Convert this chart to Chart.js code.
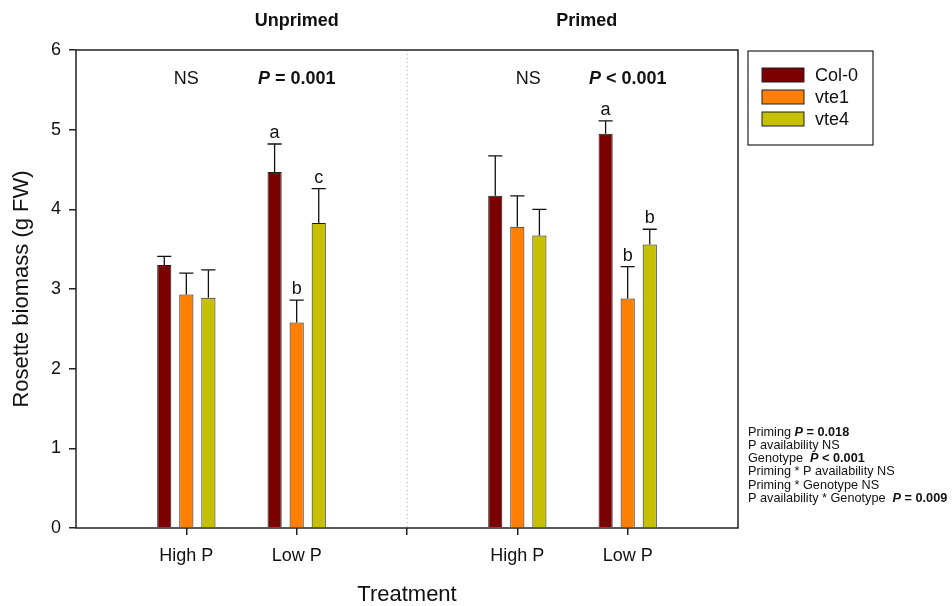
<!DOCTYPE html>
<html>
<head>
<meta charset="utf-8">
<script src="https://cdn.jsdelivr.net/npm/chart.js@4"></script>
<style>
  html, body { margin: 0; padding: 0; background: #fff; }
  #wrap { width: 952px; height: 606px; }
</style>
</head>
<body>
<div id="wrap"><canvas id="biomassChart" width="952" height="606"></canvas></div>
<script>
const FONT = "'Liberation Sans', Arial, sans-serif";

// treatment slots: 0, 3 and 6 are empty spacers around the two panels
const categories = ["", "High P", "Low P", "", "High P", "Low P", ""];
const genotypes = ["Col-0", "vte1", "vte4"];
const colors = ["#7b0000", "#ff8000", "#c6c000"];

const col0 = [null, 3.30, 4.47, null, 4.17, 4.95, null];
const col0Se = [null, 0.11, 0.35, null, 0.50, 0.16, null];
const vte1 = [null, 2.93, 2.58, null, 3.78, 2.88, null];
const vte1Se = [null, 0.27, 0.28, null, 0.39, 0.40, null];
const vte4 = [null, 2.89, 3.83, null, 3.67, 3.56, null];
const vte4Se = [null, 0.35, 0.43, null, 0.33, 0.19, null];

const col0Letters = ["", "", "a", "", "", "a", ""];
const vte1Letters = ["", "", "b", "", "", "b", ""];
const vte4Letters = ["", "", "c", "", "", "b", ""];

const yTicks = [0, 1, 2, 3, 4, 5, 6];

const panelTitles = [["Unprimed", 2], ["Primed", 4.63]];
const panelTests = [
  [1, null, "NS"], [2, "P", " = 0.001"],
  [4.1, null, "NS"], [5, "P", " < 0.001"]
];
const statLines = [
  [["Priming ", "n"], ["P", "bi"], [" = 0.018", "b"]],
  [["P availability NS", "n"]],
  [["Genotype  ", "n"], ["P", "bi"], [" < 0.001", "b"]],
  [["Priming * P availability NS", "n"]],
  [["Priming * Genotype NS", "n"]],
  [["P availability * Genotype  ", "n"], ["P", "bi"], [" = 0.009", "b"]]
];

const seList = [col0Se, vte1Se, vte4Se];
const letterList = [col0Letters, vte1Letters, vte4Letters];

function fontOf(kind, size) {
  if (kind === "bi") return "italic bold " + size + "px " + FONT;
  if (kind === "b") return "bold " + size + "px " + FONT;
  return size + "px " + FONT;
}

// draws runs of text with mixed weights, starting at x
function drawRuns(ctx, runs, x, y, size) {
  runs.forEach(([txt, kind]) => {
    ctx.font = fontOf(kind, size);
    ctx.fillText(txt, x, y);
    x += ctx.measureText(txt).width;
  });
}
function runsWidth(ctx, runs, size) {
  let w = 0;
  runs.forEach(([txt, kind]) => { ctx.font = fontOf(kind, size); w += ctx.measureText(txt).width; });
  return w;
}

const decorPlugin = {
  id: "decor",
  beforeDatasetsDraw(chart) {
    const { ctx, chartArea: a, scales: { x } } = chart;
    // dotted divider between the two panels
    ctx.save();
    ctx.strokeStyle = "#b8b8b8";
    ctx.lineWidth = 1;
    ctx.setLineDash([1, 3]);
    const dx = Math.round(x.getPixelForValue(3)) + 0.5;
    ctx.beginPath();
    ctx.moveTo(dx, a.top);
    ctx.lineTo(dx, a.bottom);
    ctx.stroke();
    ctx.restore();
  },
  afterDatasetsDraw(chart) {
    const { ctx, chartArea: a, scales: { x, y } } = chart;
    ctx.save();

    // error bars (upper only) and significance letters
    chart.data.datasets.forEach((ds, di) => {
      const meta = chart.getDatasetMeta(di);
      meta.data.forEach((bar, i) => {
        if (ds.data[i] == null) return;
        const top = y.getPixelForValue(ds.data[i] + seList[di][i]);
        const half = bar.width / 2;
        ctx.strokeStyle = "#111";
        ctx.lineWidth = 1.3;
        ctx.beginPath();
        ctx.moveTo(bar.x, bar.y);
        ctx.lineTo(bar.x, top);
        ctx.moveTo(bar.x - half, top);
        ctx.lineTo(bar.x + half, top);
        ctx.stroke();
        const letter = letterList[di][i];
        if (letter) {
          ctx.fillStyle = "#111";
          ctx.font = "18px " + FONT;
          ctx.textAlign = "center";
          ctx.textBaseline = "alphabetic";
          ctx.fillText(letter, bar.x, top - 6);
        }
      });
    });

    // plot frame
    ctx.strokeStyle = "#222";
    ctx.lineWidth = 1.5;
    ctx.strokeRect(a.left, a.top, a.right - a.left, a.bottom - a.top);

    // panel headers
    ctx.fillStyle = "#111";
    ctx.textBaseline = "middle";
    ctx.textAlign = "center";
    ctx.font = "bold 18px " + FONT;
    panelTitles.forEach(([t, pos]) => ctx.fillText(t, x.getPixelForValue(pos), a.top - 29));

    // per-panel test results
    ctx.textAlign = "left";
    panelTests.forEach(([pos, p, rest]) => {
      const runs = p ? [[p, "bi"], [rest, "b"]] : [[rest, "n"]];
      const w = runsWidth(ctx, runs, 18);
      drawRuns(ctx, runs, x.getPixelForValue(pos) - w / 2, a.top + 29, 18);
    });

    // legend box
    const lx = a.right + 10, ly = a.top + 1;
    ctx.lineWidth = 1.2;
    ctx.strokeStyle = "#222";
    ctx.strokeRect(lx, ly, 125, 94);
    genotypes.forEach((g, i) => {
      const ry = ly + 24 + i * 22;
      ctx.fillStyle = colors[i];
      ctx.fillRect(lx + 14, ry - 7, 42, 14);
      ctx.strokeStyle = "#222";
      ctx.lineWidth = 1;
      ctx.strokeRect(lx + 14, ry - 7, 42, 14);
      ctx.fillStyle = "#111";
      ctx.font = "18px " + FONT;
      ctx.fillText(g, lx + 67, ry + 1);
    });

    // overall ANOVA summary
    statLines.forEach((runs, i) => drawRuns(ctx, runs, a.right + 10, 432 + i * 13.3, 12.7));

    ctx.restore();
  }
};

const datasets = [col0, vte1, vte4].map((vals, i) => ({
  label: genotypes[i],
  data: vals,
  backgroundColor: colors[i],
  borderColor: "#1a1a1a",
  borderWidth: 1,
  borderSkipped: "bottom",
  categoryPercentage: 0.6,
  barPercentage: 0.64
}));

new Chart(document.getElementById("biomassChart"), {
  type: "bar",
  data: { labels: categories, datasets },
  options: {
    responsive: false,
    animation: false,
    layout: { padding: { top: 50, right: 214, bottom: 0, left: 0 } },
    plugins: { legend: { display: false }, tooltip: { enabled: false } },
    scales: {
      x: {
        offset: false,
        afterFit: s => { s.height = 78; },
        grid: {
          offset: false,
          drawOnChartArea: false,
          tickLength: 7,
          lineWidth: 1.5,
          tickColor: c => (c.index >= 1 && c.index <= 5 ? "#222" : "rgba(0,0,0,0)")
        },
        border: { display: false },
        ticks: { autoSkip: false, maxRotation: 0, padding: 10, color: "#111", font: { family: FONT, size: 18 } },
        title: { display: true, text: "Treatment", color: "#111", font: { family: FONT, size: 22, lineHeight: 1 }, padding: 0 }
      },
      y: {
        min: 0,
        max: 6,
        afterFit: s => { s.width = 76; },
        afterBuildTicks: s => { s.ticks = yTicks.map(v => ({ value: v })); },
        grid: { drawOnChartArea: false, tickLength: 7, lineWidth: 1.5, color: "#222" },
        border: { display: false },
        ticks: { padding: 8, color: "#111", font: { family: FONT, size: 18 } },
        title: { display: true, text: "Rosette biomass (g FW)", color: "#111", font: { family: FONT, size: 22 }, padding: { top: 9 } }
      }
    }
  },
  plugins: [decorPlugin]
});
</script>
</body>
</html>
